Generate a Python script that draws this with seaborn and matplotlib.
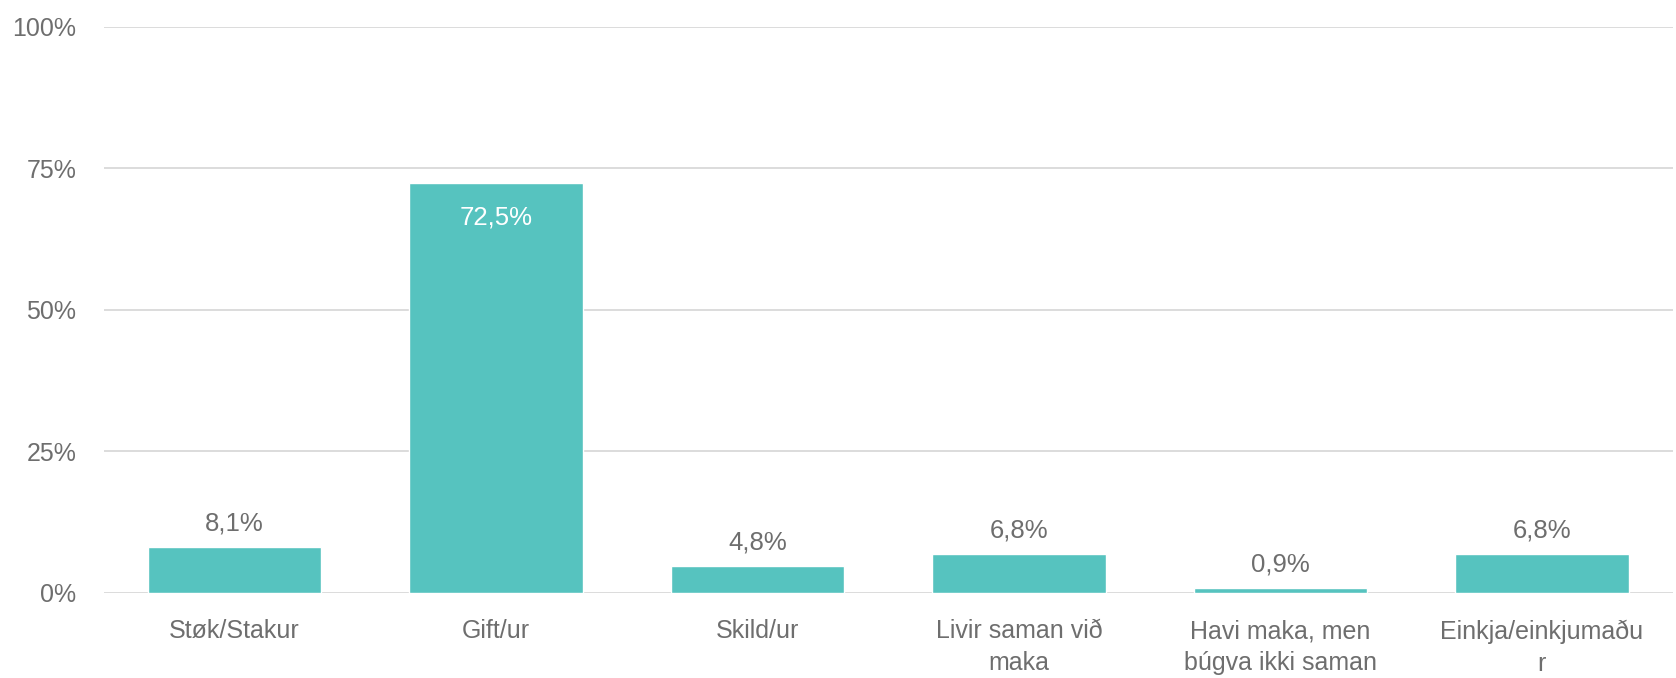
import matplotlib
matplotlib.use("Agg")
import matplotlib.pyplot as plt
import seaborn as sns
import pandas as pd

categories = ["Støk/Stakur", "Gift/ur", "Skild/ur", "Livir saman við\nmaka",
              "Havi maka, men\nbúgva ikki saman", "Einkja/einkjumaðu\nr"]
values = [8.1, 72.5, 4.8, 6.8, 0.9, 6.8]
labels = ["8,1%", "72,5%", "4,8%", "6,8%", "0,9%", "6,8%"]
yticks = [0, 25, 50, 75, 100]

sns.set_style("white")
plt.rcParams['font.family'] = ['Liberation Sans', 'DejaVu Sans']
grey = "#6e6e6e"
teal = "#56c3bf"

df = pd.DataFrame({"cat": categories, "val": values})

fig = plt.figure(figsize=(16.76, 6.78), dpi=100)
ax = fig.add_axes([0.062, 0.1254, 0.936, 0.8348])
sns.barplot(data=df, x="cat", y="val", color=teal, saturation=1, width=0.663, ax=ax)

ax.set_ylim(0, 100)
ax.set_xlim(-0.5, 5.5)
ax.set_yticks(yticks)
ax.set_yticklabels([f"{t}%" for t in yticks])
ax.yaxis.grid(True, color="#d9d9d9", linewidth=1.3)
ax.set_axisbelow(True)
for s in ax.spines.values():
    s.set_visible(False)
ax.tick_params(axis="y", length=0, pad=20, labelsize=18, labelcolor=grey)
ax.tick_params(axis="x", length=0, pad=19, labelsize=18, labelcolor=grey)
for t in ax.get_xticklabels():
    t.set_linespacing(1.42)
ax.set_xlabel("")
ax.set_ylabel("")

for i, (v, lab) in enumerate(zip(values, labels)):
    if v > 20:
        ax.annotate(lab, (i, v), xytext=(0, -25), textcoords="offset points",
                    ha="center", va="center", color="white", fontsize=18.5)
    else:
        ax.annotate(lab, (i, v), xytext=(0, 17), textcoords="offset points",
                    ha="center", va="center", color=grey, fontsize=18.5)

fig.savefig("out.png", dpi=100, facecolor="white")
